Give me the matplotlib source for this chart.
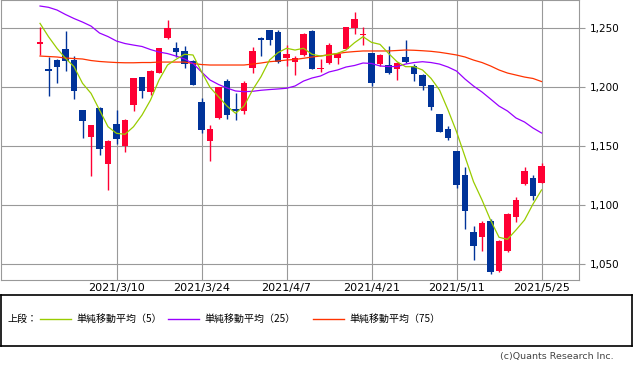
import matplotlib
matplotlib.use("Agg")
import matplotlib.pyplot as plt

plt.rcParams["font.family"] = ["DejaVu Sans", "Noto Sans CJK JP"]

# --- Data ---
dates = [
    "2021/2/25", "2021/2/26", "2021/3/1", "2021/3/2", "2021/3/3", "2021/3/4",
    "2021/3/5", "2021/3/8", "2021/3/9", "2021/3/10", "2021/3/11", "2021/3/12",
    "2021/3/15", "2021/3/16", "2021/3/17", "2021/3/18", "2021/3/19", "2021/3/22",
    "2021/3/23", "2021/3/24", "2021/3/25", "2021/3/26", "2021/3/29", "2021/3/30",
    "2021/3/31", "2021/4/1", "2021/4/2", "2021/4/5", "2021/4/6", "2021/4/7",
    "2021/4/8", "2021/4/9", "2021/4/12", "2021/4/13", "2021/4/14", "2021/4/15",
    "2021/4/16", "2021/4/19", "2021/4/20", "2021/4/21", "2021/4/22", "2021/4/23",
    "2021/4/26", "2021/4/27", "2021/4/28", "2021/4/30", "2021/5/6", "2021/5/7",
    "2021/5/10", "2021/5/11", "2021/5/12", "2021/5/13", "2021/5/14", "2021/5/17",
    "2021/5/18", "2021/5/19", "2021/5/20", "2021/5/21", "2021/5/24", "2021/5/25",
]

opens = [
    1237.0, 1215.5, 1223.1, 1232.5, 1223.1, 1180.8, 1158.1, 1182.7, 1135.3, 1168.9,
    1150.3, 1185.0, 1208.7, 1196.0, 1212.4, 1241.8, 1233.3, 1230.8, 1222.3, 1187.5,
    1154.7, 1174.0, 1205.3, 1181.9, 1180.0, 1216.4, 1241.8, 1248.6, 1246.9, 1224.8,
    1221.4, 1227.4, 1247.7, 1215.5, 1220.3, 1224.8, 1232.5, 1250.3, 1244.6, 1229.1,
    1219.8, 1218.9, 1215.5, 1225.7, 1218.1, 1210.4, 1202.0, 1177.4, 1164.7, 1146.0,
    1125.7, 1077.5, 1073.3, 1086.9, 1044.5, 1061.5, 1090.1, 1118.1, 1123.2, 1118.9,
]
highs = [
    1250.8, 1225.4, 1224.0, 1247.7, 1226.5, 1180.8, 1168.0, 1183.0, 1155.3, 1180.8,
    1173.4, 1208.0, 1208.7, 1214.7, 1233.3, 1257.0, 1238.4, 1235.0, 1223.1, 1190.9,
    1168.0, 1200.0, 1207.0, 1194.9, 1205.3, 1234.2, 1242.6, 1248.6, 1248.6, 1235.9,
    1226.5, 1246.0, 1248.6, 1224.0, 1237.3, 1228.8, 1251.1, 1263.8, 1251.1, 1229.1,
    1228.2, 1235.0, 1221.4, 1240.1, 1219.8, 1211.3, 1202.0, 1177.4, 1167.2, 1146.0,
    1132.5, 1082.5, 1086.9, 1088.6, 1070.8, 1093.7, 1107.0, 1132.5, 1125.7, 1135.8,
]
lows = [
    1227.4, 1192.6, 1203.9, 1214.1, 1190.3, 1157.3, 1125.1, 1142.6, 1113.0, 1152.0,
    1145.2, 1179.9, 1191.2, 1193.7, 1212.4, 1240.9, 1225.4, 1216.4, 1202.0, 1161.5,
    1137.6, 1173.1, 1173.1, 1172.3, 1177.4, 1212.4, 1226.5, 1236.1, 1220.6, 1218.1,
    1210.4, 1226.5, 1215.5, 1213.0, 1219.8, 1219.8, 1232.5, 1245.2, 1235.9, 1201.1,
    1218.1, 1211.3, 1206.2, 1220.6, 1205.3, 1197.7, 1180.8, 1162.1, 1155.4, 1114.7,
    1080.0, 1053.7, 1061.5, 1042.0, 1043.7, 1060.7, 1085.9, 1117.2, 1104.5, 1118.9,
]
closes = [
    1238.4, 1214.1, 1217.5, 1222.3, 1197.1, 1171.7, 1168.0, 1147.7, 1154.5, 1156.4,
    1172.3, 1207.9, 1197.1, 1213.8, 1233.3, 1250.3, 1229.9, 1219.8, 1202.0, 1164.1,
    1164.7, 1200.0, 1176.5, 1180.2, 1203.7, 1230.8, 1239.9, 1240.1, 1221.4, 1228.2,
    1224.8, 1245.2, 1215.5, 1216.4, 1235.9, 1228.2, 1251.1, 1257.9, 1245.2, 1203.7,
    1227.4, 1212.4, 1220.6, 1221.4, 1211.3, 1201.1, 1183.3, 1162.1, 1157.1, 1117.2,
    1095.2, 1065.7, 1085.2, 1043.7, 1070.0, 1092.9, 1104.5, 1129.1, 1108.0, 1133.3,
]

ma5 = [
    1254.2, 1242.9, 1233.0, 1224.6, 1217.5, 1203.4, 1194.9, 1180.8, 1166.6, 1161.0,
    1160.2, 1166.6, 1176.5, 1189.2, 1206.2, 1218.9, 1223.7, 1228.0, 1227.4, 1213.2,
    1200.0, 1192.0, 1184.1, 1178.0, 1184.1, 1197.7, 1209.0, 1223.1, 1229.4, 1233.1,
    1231.6, 1233.1, 1228.0, 1226.5, 1227.4, 1228.8, 1231.6, 1237.8, 1242.9, 1238.1,
    1236.4, 1228.8, 1221.7, 1217.5, 1217.5, 1214.7, 1207.6, 1197.7, 1180.8, 1162.4,
    1141.2, 1120.0, 1104.5, 1087.5, 1072.9, 1071.2, 1079.1, 1087.5, 1101.1, 1113.0,
]
ma25 = [
    1268.9, 1267.8, 1265.5, 1261.7, 1258.3, 1255.3, 1251.9, 1246.0, 1243.0, 1239.2,
    1237.1, 1235.8, 1234.6, 1232.0, 1229.9, 1228.6, 1226.5, 1224.0, 1220.2, 1213.0,
    1206.2, 1202.4, 1199.4, 1196.9, 1196.3, 1196.6, 1197.5, 1198.1, 1198.6, 1199.2,
    1201.1, 1205.3, 1207.9, 1209.6, 1213.0, 1214.7, 1217.2, 1218.5, 1220.6, 1220.2,
    1218.1, 1217.6, 1217.6, 1219.7, 1221.0, 1221.7, 1221.0, 1219.7, 1217.2, 1213.8,
    1207.0, 1201.1, 1196.0, 1190.1, 1184.1, 1179.9, 1174.0, 1170.6, 1165.5, 1161.3,
]
ma75 = [
    1226.5, 1226.1, 1225.7, 1224.8, 1224.4, 1224.0, 1222.7, 1221.9, 1221.4, 1221.0,
    1220.8, 1220.8, 1221.0, 1221.0, 1221.4, 1221.4, 1221.4, 1221.4, 1220.2, 1219.3,
    1218.9, 1218.9, 1218.9, 1218.9, 1218.9, 1219.7, 1220.6, 1221.7, 1222.3, 1223.1,
    1223.6, 1224.6, 1225.7, 1226.5, 1227.8, 1228.6, 1229.7, 1230.3, 1230.8, 1230.8,
    1230.8, 1230.8, 1231.2, 1231.6, 1231.4, 1231.0, 1230.5, 1229.7, 1228.6, 1227.4,
    1225.7, 1223.1, 1221.0, 1218.1, 1214.7, 1212.1, 1210.4, 1208.7, 1207.5, 1204.9,
]

tick_dates = ["2021/3/10", "2021/3/24", "2021/4/7", "2021/4/21", "2021/5/11", "2021/5/25"]
y_ticks = [1050, 1100, 1150, 1200, 1250]

legend_labels = ["単純移動平均（5）", "単純移動平均（25）", "単純移動平均（75）"]

# --- Colors ---
COLOR_UP = "#ff0033"
COLOR_DOWN = "#003399"
COLOR_MA5 = "#99cc00"
COLOR_MA25 = "#9900ff"
COLOR_MA75 = "#ff3300"
COLOR_GRID = "#999999"

W, H = 633, 373
fig = plt.figure(figsize=(W / 100, H / 100), dpi=100)
fig.patch.set_facecolor("white")

# main price panel (pixel box: x 1..579, y 0..280)
ax = fig.add_axes([1 / W, 1 - 280 / H, 578 / W, 280 / H])

xs = list(range(len(dates)))
colors = [COLOR_UP if c >= o else COLOR_DOWN for o, c in zip(opens, closes)]
bottoms = [min(o, c) for o, c in zip(opens, closes)]
heights = [max(abs(c - o), 0.9) for o, c in zip(opens, closes)]

ax.vlines(xs, lows, highs, colors=colors, linewidth=1.0, zorder=3)
ax.bar(xs, heights, bottom=bottoms, width=0.72, color=colors, linewidth=0, zorder=4)

ax.plot(xs, ma75, color=COLOR_MA75, linewidth=0.9, zorder=5)
ax.plot(xs, ma25, color=COLOR_MA25, linewidth=0.9, zorder=5)
ax.plot(xs, ma5, color=COLOR_MA5, linewidth=0.9, zorder=5)

ax.set_xlim(-4.59, 63.41)
ax.set_ylim(1036.7, 1274.0)

ax.set_xticks([dates.index(d) for d in tick_dates])
ax.set_xticklabels(tick_dates)
ax.set_yticks(y_ticks)
ax.set_yticklabels([f"{v:,}" for v in y_ticks])

ax.yaxis.tick_right()
ax.tick_params(axis="y", direction="out", length=4.5, width=0.8, color=COLOR_GRID,
               pad=3.5, labelsize=7.5)
ax.tick_params(axis="x", length=0, pad=2.5, labelsize=8)
ax.grid(True, color=COLOR_GRID, linewidth=0.8, zorder=0)
ax.set_axisbelow(True)
for sp in ax.spines.values():
    sp.set_color(COLOR_GRID)
    sp.set_linewidth(0.8)

# legend box (pixel box: x 1..632, y 295..346)
lax = fig.add_axes([1 / W, 1 - 346 / H, 631 / W, 51 / H])
lax.set_xlim(1, 632)
lax.set_ylim(346, 295)
lax.set_xticks([])
lax.set_yticks([])
for sp in lax.spines.values():
    sp.set_color("black")
    sp.set_linewidth(1.2)

cjk = ["Noto Sans CJK JP", "DejaVu Sans"]
ly = 318.5
lax.text(8, ly, "上段：", family=cjk, fontsize=7.2, va="center", ha="left")
line_starts = [40, 168, 313]
line_colors = [COLOR_MA5, COLOR_MA25, COLOR_MA75]
for x0, col, lab in zip(line_starts, line_colors, legend_labels):
    lax.plot([x0, x0 + 31], [ly, ly], color=col, linewidth=1.0)
    lax.text(x0 + 36, ly, lab, family=cjk, fontsize=7.2, va="center", ha="left")

fig.text(614 / W, 1 - 357 / H, "(c)Quants Research Inc.", fontsize=6.8,
         color="#444444", ha="right", va="center")

fig.savefig("out.png", dpi=100)
